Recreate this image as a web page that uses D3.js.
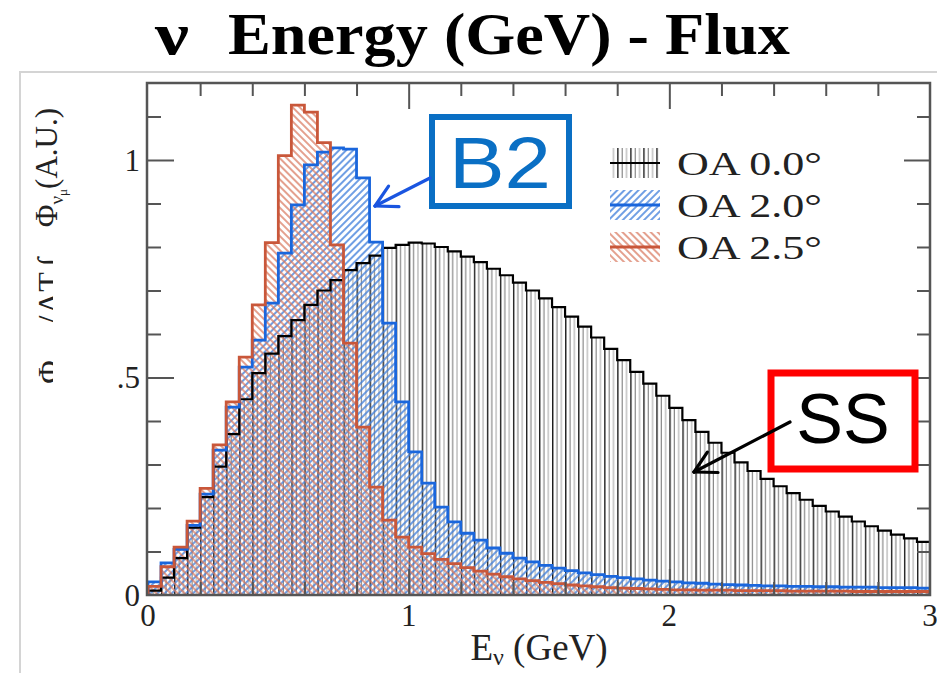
<!DOCTYPE html>
<html>
<head>
<meta charset="utf-8">
<script src="https://cdn.jsdelivr.net/npm/d3@7"></script>
<style>
  html, body { margin: 0; padding: 0; background: #fff; }
  svg { display: block; }
</style>
</head>
<body>
<svg id="chart" width="937" height="673"></svg>
<script>
// Neutrino energy bins (GeV), 0.05 GeV wide
const binEdges = [0, 0.05, 0.1, 0.15, 0.2, 0.25, 0.3, 0.35, 0.4, 0.45, 0.5, 0.55, 0.6, 0.65, 0.7, 0.75,
  0.8, 0.85, 0.9, 0.95, 1.0, 1.05, 1.1, 1.15, 1.2, 1.25, 1.3, 1.35, 1.4, 1.45, 1.5, 1.55, 1.6, 1.65,
  1.7, 1.75, 1.8, 1.85, 1.9, 1.95, 2.0, 2.05, 2.1, 2.15, 2.2, 2.25, 2.3, 2.35, 2.4, 2.45, 2.5, 2.55,
  2.6, 2.65, 2.7, 2.75, 2.8, 2.85, 2.9, 2.95, 3.0];

// Flux per bin (A.U.), off-axis angle 0.0 deg
const fluxOA00 = [0.01, 0.04, 0.085, 0.155, 0.225, 0.295, 0.37, 0.45, 0.51, 0.555, 0.595, 0.632, 0.667,
  0.70, 0.724, 0.747, 0.763, 0.78, 0.798, 0.805, 0.81, 0.808, 0.80, 0.79, 0.778, 0.765, 0.75, 0.735,
  0.718, 0.70, 0.682, 0.662, 0.64, 0.617, 0.592, 0.566, 0.54, 0.513, 0.486, 0.458, 0.43, 0.402, 0.375,
  0.35, 0.327, 0.305, 0.285, 0.267, 0.25, 0.234, 0.219, 0.205, 0.192, 0.18, 0.169, 0.158, 0.148,
  0.139, 0.13, 0.122];

// Flux per bin (A.U.), off-axis angle 2.0 deg
const fluxOA20 = [0.03, 0.074, 0.105, 0.16, 0.232, 0.333, 0.432, 0.524, 0.586, 0.671, 0.786, 0.897,
  0.989, 1.018, 1.028, 1.025, 0.959, 0.811, 0.625, 0.444, 0.329, 0.257, 0.202, 0.168, 0.142, 0.126,
  0.108, 0.096, 0.085, 0.076, 0.068, 0.062, 0.056, 0.051, 0.047, 0.043, 0.04, 0.037, 0.034, 0.032,
  0.03, 0.028, 0.027, 0.025, 0.024, 0.023, 0.022, 0.021, 0.021, 0.02, 0.02, 0.019, 0.019, 0.018,
  0.018, 0.018, 0.017, 0.017, 0.017, 0.016];

// Flux per bin (A.U.), off-axis angle 2.5 deg
const fluxOA25 = [0.02, 0.065, 0.11, 0.17, 0.245, 0.345, 0.444, 0.547, 0.667, 0.81, 1.01, 1.126, 1.11,
  1.04, 0.805, 0.579, 0.386, 0.248, 0.172, 0.133, 0.11, 0.095, 0.082, 0.072, 0.063, 0.055, 0.048,
  0.042, 0.037, 0.033, 0.029, 0.026, 0.023, 0.021, 0.019, 0.017, 0.016, 0.015, 0.014, 0.013, 0.012,
  0.012, 0.011, 0.011, 0.011, 0.01, 0.01, 0.01, 0.01, 0.009, 0.009, 0.009, 0.009, 0.009, 0.008,
  0.008, 0.008, 0.008, 0.008, 0.008];

const seriesNames = ["OA 0.0°", "OA 2.0°", "OA 2.5°"];
const xTickLabels = ["0", "1", "2", "3"];
const xTickValues = [0, 1, 2, 3];
const yTickLabels = ["0", ".5", "1"];
const yTickValues = [0, 0.5, 1];
const xMinorTicks = [0.2, 0.4, 0.6, 0.8, 1.2, 1.4, 1.6, 1.8, 2.2, 2.4, 2.6, 2.8];
const yMinorTicks = [0.1, 0.2, 0.3, 0.4, 0.6, 0.7, 0.8, 0.9, 1.1];
const yMax = 1.177;

const svg = d3.select("#chart");
const serif = "'Liberation Serif', 'Times New Roman', serif";
const sans = "'Liberation Sans', Arial, sans-serif";

const x = d3.scaleLinear().domain([0, 3]).range([148, 930]);
const y = d3.scaleLinear().domain([0, yMax]).range([595, 83]);

// light outer border of the figure panel
svg.append("path")
  .attr("d", "M20,673 L20,72 L937,72")
  .attr("fill", "none").attr("stroke", "#d4d4d4").attr("stroke-width", 2);

// title
svg.append("text")
  .attr("x", 155).attr("y", 54)
  .attr("font-family", serif).attr("font-weight", "bold").attr("font-size", 60)
  .attr("textLength", 34).attr("lengthAdjust", "spacingAndGlyphs")
  .text("ν");
svg.append("text")
  .attr("x", 228).attr("y", 54)
  .attr("font-family", serif).attr("font-weight", "bold").attr("font-size", 60)
  .attr("textLength", 562).attr("lengthAdjust", "spacingAndGlyphs")
  .text("Energy (GeV) - Flux");

// ---- fill patterns ----
const defs = svg.append("defs");
const bw = x(0.05) - x(0);

const pV = defs.append("pattern").attr("id", "hatchV")
  .attr("patternUnits", "userSpaceOnUse").attr("x", x(0)).attr("y", 0)
  .attr("width", bw).attr("height", 10);
[[0.7, "#1e1e1e", 1.4], [5.0, "#858585", 1.2], [9.3, "#b0b0b0", 1.2]].forEach(([px, c, w]) => {
  pV.append("line").attr("x1", px).attr("x2", px).attr("y1", 0).attr("y2", 10)
    .attr("stroke", c).attr("stroke-width", w);
});

function diagPattern(id, angle, color, w) {
  const p = defs.append("pattern").attr("id", id)
    .attr("patternUnits", "userSpaceOnUse").attr("width", 5).attr("height", 10)
    .attr("patternTransform", `rotate(${angle})`);
  p.append("line").attr("x1", 1).attr("x2", 1).attr("y1", 0).attr("y2", 10)
    .attr("stroke", color).attr("stroke-width", w);
}
diagPattern("hatchBlue", 45, "#3f7edb", 1.5);
diagPattern("hatchRed", -45, "#d9785e", 1.4);

defs.append("clipPath").attr("id", "plotClip")
  .append("rect").attr("x", x(0)).attr("y", y(yMax)).attr("width", x(3) - x(0)).attr("height", y(0) - y(yMax));

// ---- histograms ----
function stepPoints(values) {
  const pts = [[binEdges[0], 0]];
  values.forEach((v, i) => { pts.push([binEdges[i], v]); pts.push([binEdges[i + 1], v]); });
  pts.push([binEdges[binEdges.length - 1], 0]);
  return pts;
}
const line = d3.line().x(d => x(d[0])).y(d => y(d[1]));

const series = [
  { values: fluxOA00, fill: "url(#hatchV)", stroke: "#000000", width: 2.2 },
  { values: fluxOA20, fill: "url(#hatchBlue)", stroke: "#1a66dc", width: 2.8 },
  { values: fluxOA25, fill: "url(#hatchRed)", stroke: "#c9573a", width: 2.8 }
];

const plot = svg.append("g").attr("clip-path", "url(#plotClip)");
series.forEach(s => {
  plot.append("path").attr("d", line(stepPoints(s.values))).attr("fill", s.fill).attr("stroke", "none");
});
series.forEach(s => {
  plot.append("path").attr("d", line(stepPoints(s.values)))
    .attr("fill", "none").attr("stroke", s.stroke).attr("stroke-width", s.width)
    .attr("stroke-linejoin", "miter");
});

// ---- frame and ticks ----
const axisColor = "#555";
svg.append("rect")
  .attr("x", x(0) - 1).attr("y", y(yMax)).attr("width", x(3) - x(0) + 1).attr("height", y(0) - y(yMax))
  .attr("fill", "none").attr("stroke", axisColor).attr("stroke-width", 2.5);

function tickAxis(axisFn, scale, values, size, transform) {
  const g = svg.append("g").attr("transform", transform)
    .call(axisFn(scale).tickValues(values).tickSize(size).tickFormat(""));
  g.select(".domain").remove();
  g.selectAll(".tick line").attr("stroke", axisColor).attr("stroke-width", 2);
}
tickAxis(d3.axisLeft, y, yMinorTicks, -13, `translate(${x(0)},0)`);
tickAxis(d3.axisLeft, y, [0.5, 1], -26, `translate(${x(0)},0)`);
tickAxis(d3.axisRight, y, yMinorTicks, -13, `translate(${x(3)},0)`);
tickAxis(d3.axisRight, y, [0.5, 1], -26, `translate(${x(3)},0)`);
tickAxis(d3.axisTop, x, xMinorTicks, -13, `translate(0,${y(yMax)})`);
tickAxis(d3.axisTop, x, [1, 2], -26, `translate(0,${y(yMax)})`);
tickAxis(d3.axisBottom, x, xMinorTicks, -13, `translate(0,${y(0)})`);
tickAxis(d3.axisBottom, x, [1, 2], -26, `translate(0,${y(0)})`);

// tick labels
svg.append("g").selectAll("text").data(yTickValues).join("text")
  .attr("x", 140).attr("y", d => y(d) + 11)
  .attr("text-anchor", "end").attr("font-family", serif).attr("font-size", 31).attr("fill", "#222")
  .text((d, i) => yTickLabels[i]);
svg.append("g").selectAll("text").data(xTickValues).join("text")
  .attr("x", d => x(d)).attr("y", 626)
  .attr("text-anchor", "middle").attr("font-family", serif).attr("font-size", 31).attr("fill", "#222")
  .text((d, i) => xTickLabels[i]);

// x axis title
const xt = svg.append("text").attr("x", (x(0) + x(3)) / 2).attr("y", 660)
  .attr("text-anchor", "middle").attr("font-family", serif).attr("font-size", 37).attr("fill", "#222");
xt.append("tspan").text("E");
xt.append("tspan").attr("font-size", 24).attr("dy", 5).text("ν");
xt.append("tspan").attr("dy", -5).text(" (GeV)");

// y axis title
const yt = svg.append("text").attr("transform", "translate(57,108) rotate(-90)")
  .attr("text-anchor", "end").attr("font-family", serif).attr("font-size", 31).attr("fill", "#222");
yt.append("tspan").text("Φ");
yt.append("tspan").attr("font-size", 19).attr("dy", 6).text("ν");
yt.append("tspan").attr("font-size", 13).attr("dy", 4).text("μ");
yt.append("tspan").attr("dy", -10).text("(A.U.)");

defs.append("clipPath").attr("id", "labelCut")
  .append("rect").attr("x", 20).attr("y", 245).attr("width", 33).attr("height", 160);
const cutGlyphs = [["∫", 262], ["T", 282], ["Λ", 303], ["/", 320], ["Φ", 372]];
svg.append("g").attr("clip-path", "url(#labelCut)")
  .selectAll("text").data(cutGlyphs).join("text")
  .attr("transform", d => `translate(60,${d[1]}) rotate(-90)`)
  .attr("text-anchor", "middle").attr("font-family", serif).attr("font-size", 32).attr("fill", "#222")
  .text(d => d[0]);

// ---- legend ----
const legendFills = ["url(#hatchV)", "url(#hatchBlue)", "url(#hatchRed)"];
const legendRows = [163, 205, 247];
const lg = svg.append("g");
seriesNames.forEach((name, i) => {
  const cy = legendRows[i];
  lg.append("rect").attr("x", 610).attr("y", cy - 15).attr("width", 50).attr("height", 30)
    .attr("fill", legendFills[i]);
  lg.append("line").attr("x1", 610).attr("x2", 660).attr("y1", cy).attr("y2", cy)
    .attr("stroke", series[i].stroke).attr("stroke-width", i === 0 ? 2 : 3);
  lg.append("text").attr("x", 677).attr("y", cy + 12)
    .attr("font-family", serif).attr("font-size", 34).attr("fill", "#222")
    .attr("textLength", 145).attr("lengthAdjust", "spacingAndGlyphs")
    .text(name);
});

// ---- annotations ----
function arrow(g, x1, y1, x2, y2, color, w, head) {
  g.append("line").attr("x1", x1).attr("y1", y1).attr("x2", x2).attr("y2", y2)
    .attr("stroke", color).attr("stroke-width", w).attr("stroke-linecap", "round");
  const a = Math.atan2(y2 - y1, x2 - x1);
  [0.5, -0.5].forEach(da => {
    g.append("line").attr("x1", x2).attr("y1", y2)
      .attr("x2", x2 - head * Math.cos(a + da)).attr("y2", y2 - head * Math.sin(a + da))
      .attr("stroke", color).attr("stroke-width", w).attr("stroke-linecap", "round");
  });
}
const ann = svg.append("g");
// B2
ann.append("rect").attr("x", 432).attr("y", 117).attr("width", 137).attr("height", 89)
  .attr("fill", "#fff").attr("stroke", "#0a6fc4").attr("stroke-width", 6);
ann.append("text").attr("x", 500).attr("y", 188).attr("text-anchor", "middle")
  .attr("font-family", sans).attr("font-size", 72).attr("fill", "#0a6fc4")
  .attr("textLength", 102).attr("lengthAdjust", "spacingAndGlyphs").text("B2");
arrow(ann, 430, 178, 375, 206, "#1a55e0", 3.2, 24);
// SS
ann.append("rect").attr("x", 771).attr("y", 373).attr("width", 144).attr("height", 96)
  .attr("fill", "#fff").attr("stroke", "#ff0000").attr("stroke-width", 7);
ann.append("text").attr("x", 843).attr("y", 443).attr("text-anchor", "middle")
  .attr("font-family", sans).attr("font-size", 70).attr("fill", "#000").text("SS");
arrow(ann, 790, 422, 694, 472, "#000", 3.2, 24);
</script>
</body>
</html>
